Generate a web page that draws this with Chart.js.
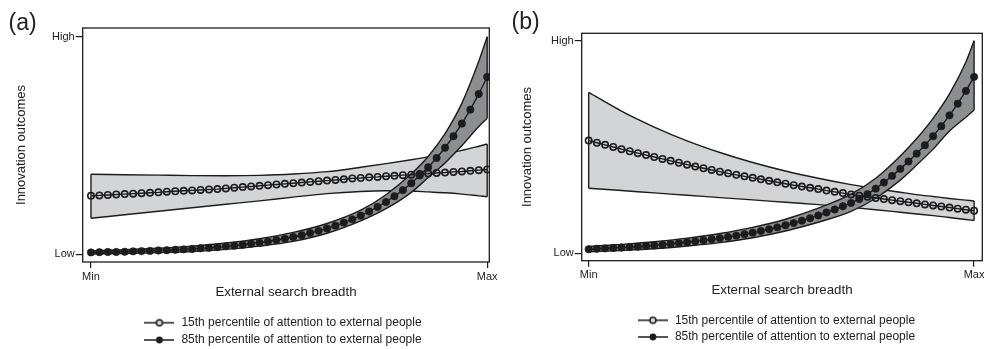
<!DOCTYPE html>
<html>
<head>
<meta charset="utf-8">
<script src="https://cdn.jsdelivr.net/npm/chart.js@4.4.0/dist/chart.umd.min.js"></script>
<style>
  html, body { margin: 0; padding: 0; background: #fff; }
  .wrap { position: relative; width: 984px; height: 349px; overflow: hidden; background: #fff; }
  canvas { position: absolute; top: 0; }
  .tag { position: absolute; font: 23px "Liberation Sans", Arial, sans-serif; color: #222; line-height: 1; }
</style>
</head>
<body>
<div class="wrap">
  <canvas id="chartA" width="565" height="356" style="left:0"></canvas>
  <canvas id="chartB" width="554" height="353" style="left:499px"></canvas>
  <div class="tag" style="left:8.5px; top:10.5px">(a)</div>
  <div class="tag" style="left:511.5px; top:10px">(b)</div>
</div>
<script>
// axis labels
var xTickValues = [0, 47];
var xTickLabels = ['Min', 'Max'];
var yTickValues = [0, 100];
var yTickLabels = ['Low', 'High'];
var seriesNames = ['15th percentile of attention to external people', '85th percentile of attention to external people'];

// marker positions along external search breadth (Min = 0 ... Max = 47)
var points = [0, 1, 2, 3, 4, 5, 6, 7, 8, 9, 10, 11, 12, 13, 14, 15, 16, 17, 18, 19, 20, 21, 22, 23,
              24, 25, 26, 27, 28, 29, 30, 31, 32, 33, 34, 35, 36, 37, 38, 39, 40, 41, 42, 43, 44, 45, 46, 47];
// positions where the confidence bands were read
var bandX = [0, 4, 8, 12, 16, 20, 24, 28, 32, 35, 38, 40, 42, 44, 46, 47];

// panel (a)
var a15 = [26.9, 27.1, 27.3, 27.5, 27.7, 27.9, 28.1, 28.3, 28.5, 28.8, 29.0, 29.2, 29.4, 29.6, 29.8, 30.0,
           30.3, 30.6, 30.9, 31.2, 31.5, 31.8, 32.1, 32.4, 32.7, 33.0, 33.3, 33.6, 33.9, 34.2, 34.5, 34.9,
           35.1, 35.4, 35.6, 35.9, 36.1, 36.4, 36.6, 36.9, 37.1, 37.4, 37.6, 37.9, 38.1, 38.4, 38.7, 39.0];
var a85 = [0.9, 1.0, 1.1, 1.1, 1.2, 1.4, 1.5, 1.6, 1.8, 1.9, 2.1, 2.3, 2.5, 2.8, 3.0, 3.3,
           3.7, 4.0, 4.4, 4.9, 5.4, 5.9, 6.6, 7.2, 8.0, 8.8, 9.8, 10.8, 11.9, 13.2, 14.6, 16.1,
           17.8, 19.7, 21.8, 24.1, 26.7, 29.5, 32.7, 36.2, 40.0, 44.3, 49.0, 54.3, 60.1, 66.5, 73.7, 81.5];
var a15Up = [36.8, 36.6, 36.4, 36.2, 36.1, 36.3, 36.9, 38.0, 40.0, 41.7, 43.5, 44.8, 46.3, 47.8, 49.7, 50.7];
var a15Lo = [16.6, 18.2, 19.8, 21.4, 23.0, 24.6, 26.3, 27.9, 28.9, 29.2, 29.1, 28.7, 28.3, 27.7, 26.9, 26.5];
var a85Up = [1.7, 2.1, 2.8, 3.8, 5.2, 7.2, 10.1, 14.2, 20.3, 27.4, 37.0, 45.0, 55.5, 69.5, 88.7, 100.0];
var a85Lo = [0.2, 0.4, 0.8, 1.3, 2.3, 3.8, 6.0, 9.7, 15.4, 21.0, 28.5, 35.3, 42.0, 50.0, 58.7, 62.5];

// panel (b)
var b15 = [53.0, 52.0, 51.0, 50.0, 49.0, 48.0, 47.1, 46.2, 45.3, 44.4, 43.5, 42.6, 41.7, 40.8, 40.0, 39.2,
           38.4, 37.6, 36.9, 36.2, 35.5, 34.8, 34.1, 33.4, 32.7, 32.0, 31.4, 30.8, 30.2, 29.5, 28.9, 28.3,
           27.7, 27.1, 26.6, 26.0, 25.5, 25.0, 24.5, 24.0, 23.5, 23.0, 22.5, 22.0, 21.5, 21.0, 20.5, 20.0];
var b85 = [1.9, 2.1, 2.3, 2.5, 2.7, 2.9, 3.1, 3.4, 3.7, 4.0, 4.4, 4.8, 5.2, 5.6, 6.1, 6.6,
           7.1, 7.7, 8.3, 9.0, 9.7, 10.5, 11.3, 12.2, 13.2, 14.2, 15.3, 16.5, 17.8, 19.2, 20.6, 22.1,
           23.7, 25.5, 27.8, 30.4, 33.3, 36.4, 39.7, 43.2, 46.9, 50.8, 55.1, 59.8, 64.9, 70.4, 76.4, 83.0];
var b15Up = [75.7, 66.9, 59.4, 52.9, 47.4, 42.7, 38.7, 35.3, 32.3, 30.4, 28.7, 27.6, 26.7, 25.8, 25.0, 24.6];
var b15Lo = [30.6, 29.5, 28.4, 27.3, 26.2, 25.1, 24.0, 22.9, 21.6, 20.5, 19.3, 18.5, 17.7, 16.8, 15.9, 15.4];
var b85Up = [3.2, 4.2, 5.4, 7.1, 9.3, 12.2, 16.0, 21.2, 27.8, 35.3, 45.8, 54.0, 63.5, 75.0, 90.0, 100.0];
var b85Lo = [0.7, 1.3, 2.1, 3.4, 5.0, 7.3, 10.5, 14.6, 19.7, 25.9, 34.4, 41.5, 49.0, 57.5, 64.0, 67.4];

var INK = '#1c1c1c';
var LIGHT = '#d3d4d6';
var DARK = '#8d8e91';

Chart.defaults.font.family = '"Liberation Sans", Arial, Helvetica, sans-serif';
Chart.defaults.color = '#222';

// box round the plot area
var framePlugin = {
    id: 'frame',
    afterDatasetsDraw: function(chart) {
        var ctx = chart.ctx, a = chart.chartArea;
        ctx.save();
        ctx.strokeStyle = INK;
        ctx.lineWidth = 1.3;
        ctx.strokeRect(a.left, a.top, a.right - a.left, a.bottom - a.top);
        ctx.restore();
    }
};

function legendIcon(filled) {
    var c = document.createElement('canvas');
    c.width = 30; c.height = 10;
    var g = c.getContext('2d');
    g.strokeStyle = INK; g.lineWidth = 1.5;
    g.beginPath(); g.moveTo(0, 5); g.lineTo(30, 5); g.stroke();
    g.beginPath(); g.arc(15, 5, filled ? 3.4 : 3, 0, Math.PI * 2);
    if (filled) { g.fillStyle = INK; g.fill(); }
    else { g.fillStyle = '#d8d8d8'; g.fill(); g.lineWidth = 1.5; g.stroke(); }
    return c;
}
var icons = [legendIcon(false), legendIcon(true)];

function xy(xs, ys) {
    return xs.map(function(x, i) { return {x: x, y: ys[i]}; });
}

function lineSet(label, ys, filled) {
    return {
        label: label,
        data: xy(points, ys),
        borderColor: INK,
        borderWidth: 1.4,
        tension: 0,
        pointRadius: filled ? 3.7 : 3.2,
        pointBorderWidth: filled ? 0.6 : 1.6,
        pointBorderColor: INK,
        pointBackgroundColor: filled ? INK : 'rgba(0,0,0,0)',
        fill: false
    };
}

function bandSet(ys, colour) {
    return {
        label: '',
        data: xy(bandX, ys),
        borderColor: INK,
        borderWidth: 1.4,
        pointRadius: 0,
        cubicInterpolationMode: 'monotone',
        fill: colour ? '-1' : false,
        backgroundColor: colour || 'rgba(0,0,0,0)'
    };
}

// vertical closing edge of a band at the first or last read position
function edgeSet(k, lo, up) {
    return {
        label: '',
        data: [{x: bandX[k], y: lo[k]}, {x: bandX[k], y: up[k]}],
        borderColor: INK,
        borderWidth: 1.4,
        pointRadius: 0,
        fill: false
    };
}

function makePanel(id, s15, s85, lo15, up15, lo85, up85, lay) {
    var last = bandX.length - 1;
    var datasets = [
        lineSet(seriesNames[0], s15, false),
        lineSet(seriesNames[1], s85, true),
        edgeSet(0, lo85, up85),
        edgeSet(last, lo85, up85),
        bandSet(lo85, null),
        bandSet(up85, DARK),
        edgeSet(0, lo15, up15),
        edgeSet(last, lo15, up15),
        bandSet(lo15, null),
        bandSet(up15, LIGHT)
    ];
    return new Chart(document.getElementById(id), {
        type: 'line',
        data: {datasets: datasets},
        options: {
            responsive: false,
            animation: false,
            devicePixelRatio: 1,
            layout: {padding: {top: lay.top, left: 0, right: 0, bottom: 0}},
            plugins: {
                tooltip: {enabled: false},
                legend: {
                    position: 'bottom',
                    labels: {
                        usePointStyle: true,
                        pointStyleWidth: 32,
                        padding: lay.legendPad,
                        color: '#222',
                        font: {size: 12},
                        filter: function(item) { return item.datasetIndex < 2; },
                        generateLabels: function(chart) {
                            var items = Chart.defaults.plugins.legend.labels.generateLabels(chart);
                            items.forEach(function(it) {
                                if (it.datasetIndex < 2) it.pointStyle = icons[it.datasetIndex];
                            });
                            return items;
                        }
                    }
                }
            },
            scales: {
                x: {
                    type: 'linear',
                    min: lay.xMin, max: lay.xMax,
                    afterBuildTicks: function(s) { s.ticks = xTickValues.map(function(v) { return {value: v}; }); },
                    afterFit: function(s) { s.height = lay.xHeight; },
                    ticks: {
                        autoSkip: false, maxRotation: 0, padding: 2, color: '#222', font: {size: 11},
                        callback: function(v, i) { return xTickLabels[i]; }
                    },
                    grid: {drawOnChartArea: false, tickLength: 6, color: INK, lineWidth: 1.2},
                    border: {display: false},
                    title: {display: true, text: 'External search breadth', color: '#222', font: {size: 13.3},
                            padding: {top: 0, bottom: lay.xTitlePad}}
                },
                y: {
                    type: 'linear',
                    min: lay.yMin, max: lay.yMax,
                    afterBuildTicks: function(s) { s.ticks = yTickValues.map(function(v) { return {value: v}; }); },
                    afterFit: function(s) { s.width = lay.yWidth; },
                    ticks: {
                        padding: 1, color: '#222', font: {size: 11},
                        callback: function(v, i) { return yTickLabels[i]; }
                    },
                    grid: {drawOnChartArea: false, tickLength: 7, color: INK, lineWidth: 1.2},
                    border: {display: false},
                    title: {display: true, text: 'Innovation outcomes', color: '#222', font: {size: 13},
                            padding: {top: lay.yTitlePad, bottom: 0}}
                },
                yR: {
                    position: 'right',
                    grid: {display: false},
                    border: {display: false},
                    ticks: {display: false},
                    afterFit: function(s) { s.width = lay.rightWidth; }
                }
            }
        },
        plugins: [framePlugin]
    });
}

makePanel('chartA', a15, a85, a15Lo, a15Up, a85Lo, a85Up, {
    top: 28, xMin: -0.98, xMax: 47.25, yMin: -3.5, yMax: 104, legendPad: 5.3,
    xHeight: 49.4, yWidth: 82.7, rightWidth: 75.7, yTitlePad: 13.2, xTitlePad: 11.1
});
makePanel('chartB', b15, b85, b15Lo, b15Up, b85Lo, b85Up, {
    top: 33.3, xMin: -0.85, xMax: 48.0, yMin: -3.5, yMax: 103.5, legendPad: 4.7,
    xHeight: 48.9, yWidth: 82.7, rightWidth: 70.7, yTitlePad: 20.2, xTitlePad: 11.3
});
</script>
</body>
</html>
